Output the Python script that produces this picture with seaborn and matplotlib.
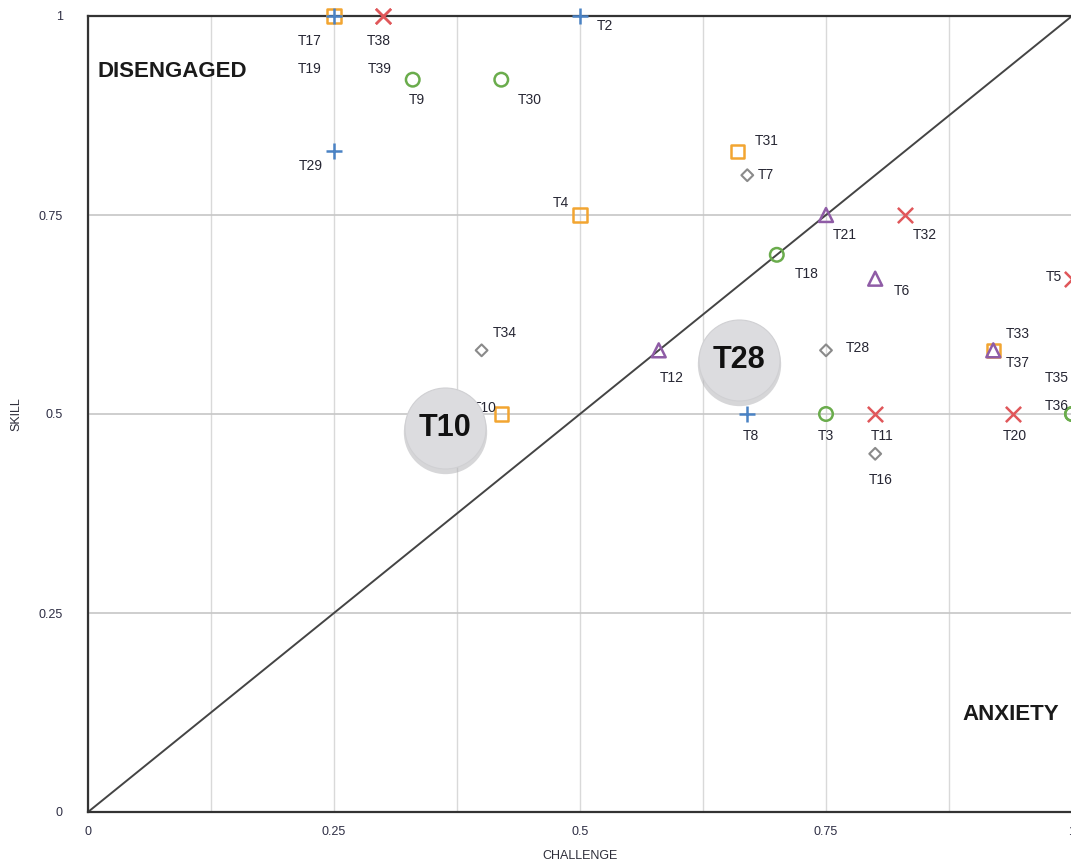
import matplotlib
matplotlib.use("Agg")
import matplotlib.pyplot as plt
import matplotlib.transforms as mtransforms
import seaborn as sns
import pandas as pd

# ---- data ----
task_names = ["T2", "T3", "T4", "T5", "T6", "T7", "T8", "T9", "T10", "T11",
              "T12", "T16", "T17", "T18", "T19", "T20", "T21", "T28", "T29", "T30",
              "T31", "T32", "T33", "T34", "T35", "T36", "T37", "T38", "T39"]
challenge = [0.50, 0.75, 0.50, 1.00, 0.80, 0.67, 0.67, 0.33, 0.42, 0.80,
             0.58, 0.80, 0.25, 0.70, 0.25, 0.94, 0.75, 0.75, 0.25, 0.42,
             0.66, 0.83, 0.92, 0.40, 1.00, 1.00, 0.92, 0.30, 0.30]
skill = [1.00, 0.50, 0.75, 0.67, 0.67, 0.80, 0.50, 0.92, 0.50, 0.50,
         0.58, 0.45, 1.00, 0.70, 1.00, 0.50, 0.75, 0.58, 0.83, 0.92,
         0.83, 0.75, 0.58, 0.58, 0.50, 0.50, 0.58, 1.00, 1.00]
group = ["plus", "circle", "square", "cross", "triangle", "diamond", "plus", "circle", "square", "cross",
         "triangle", "diamond", "square", "circle", "plus", "cross", "triangle", "diamond", "plus", "circle",
         "square", "cross", "square", "diamond", "circle", "circle", "triangle", "cross", "cross"]

callout_names = ["T10", "T28"]
callout_x = [0.363, 0.662]
callout_y = [0.482, 0.568]

x_ticks = [0, 0.25, 0.5, 0.75, 1]
x_tick_labels = ["0", "0.25", "0.5", "0.75", "1"]
y_ticks = [0, 0.25, 0.5, 0.75, 1]
y_tick_labels = ["0", "0.25", "0.5", "0.75", "1"]

# ---- styling ----
group_style = {
    "plus":     dict(marker="+", color="#4a82c4", s=140, lw=1.8, filled=True),
    "square":   dict(marker="s", color="#f2a531", s=90, lw=1.8, filled=False),
    "circle":   dict(marker="o", color="#6aac4c", s=95, lw=1.8, filled=False),
    "triangle": dict(marker="^", color="#8f5ca6", s=100, lw=1.8, filled=False),
    "cross":    dict(marker="x", color="#e0575a", s=120, lw=1.8, filled=True),
    "diamond":  dict(marker="D", color="#8a8a8a", s=36, lw=1.5, filled=False),
}
label_offsets = {
    "T17": (-24, -25), "T19": (-24, -53), "T38": (-4, -25), "T39": (-4, -53),
    "T2": (25, -10), "T9": (4, -20), "T30": (28, -20), "T29": (-23, -15),
    "T31": (29, 10), "T7": (19, 0), "T4": (-19, 12), "T21": (19, -20),
    "T32": (20, -20), "T18": (30, -19), "T6": (27, -12), "T5": (-18, 2),
    "T34": (23, 17), "T12": (13, -28), "T28": (32, 2), "T33": (24, 16),
    "T37": (24, -13), "T35": (-15, 36), "T36": (-15, 8), "T10": (-17, 6),
    "T8": (4, -22), "T3": (0, -22), "T11": (7, -22), "T20": (2, -22),
    "T16": (5, -26),
}

df = pd.DataFrame({"name": task_names, "challenge": challenge,
                   "skill": skill, "group": group})

sns.set_theme(style="white")
plt.rcParams["font.family"] = ["Liberation Sans", "DejaVu Sans"]

fig = plt.figure(figsize=(10.71, 8.64), dpi=100)
ax = fig.add_axes([88 / 1071, 52 / 864, 984 / 1071, 796 / 864])

# grid
ax.set_xticks(x_ticks)
ax.set_xticklabels(x_tick_labels)
ax.set_xticks([0.125, 0.375, 0.625, 0.875], minor=True)
ax.set_yticks(y_ticks)
ax.set_yticklabels(y_tick_labels)
ax.grid(True, which="major", axis="y", color="#c6c6c6", lw=1.2)
ax.grid(True, which="both", axis="x", color="#d9d9d9", lw=1.0)
ax.set_axisbelow(True)

# diagonal
ax.plot([0, 1], [0, 1], color="#444444", lw=1.4, zorder=2)

# markers
order = ["diamond", "square", "circle", "triangle", "cross", "plus"]
for g in order:
    st = group_style[g]
    sub = df[df["group"] == g]
    if st["filled"]:
        sns.scatterplot(data=sub, x="challenge", y="skill", marker=st["marker"],
                        color=st["color"], s=st["s"], linewidth=st["lw"],
                        ax=ax, zorder=4, clip_on=False, legend=False)
    else:
        sns.scatterplot(data=sub, x="challenge", y="skill", marker=st["marker"],
                        facecolor="none", edgecolor=st["color"], s=st["s"],
                        linewidth=st["lw"], ax=ax, zorder=4, clip_on=False,
                        legend=False)

# point labels
for n, xv, yv in zip(task_names, challenge, skill):
    dx, dy = label_offsets.get(n, (0, -20))
    ax.annotate(n, (xv, yv), xytext=(dx, dy), textcoords="offset pixels",
                ha="center", va="center", fontsize=10, color="#262633",
                zorder=5, annotation_clip=False)

# callout bubbles
shadow_tr = ax.transData + mtransforms.ScaledTranslation(0, -4 / 100, fig.dpi_scale_trans)
for n, xv, yv in zip(callout_names, callout_x, callout_y):
    ax.scatter([xv], [yv], s=3600, color="#aeaeb2", alpha=0.5, zorder=6,
               linewidths=0, transform=shadow_tr)
    ax.scatter([xv], [yv], s=3400, color="#dcdcdf", edgecolors="#d0d0d3",
               linewidths=0.8, zorder=7)
    ax.text(xv, yv, n, ha="center", va="center", fontsize=22,
            fontweight="bold", color="#111111", zorder=8)

# region labels
ax.text(0.01, 0.93, "DISENGAGED", fontsize=16, fontweight="bold",
        color="#1a1a1a", ha="left", va="center", zorder=5)
ax.text(0.889, 0.123, "ANXIETY", fontsize=16, fontweight="bold",
        color="#1a1a1a", ha="left", va="center", zorder=5)

ax.set_xlim(0, 1)
ax.set_ylim(0, 1)

for side in ["left", "bottom", "top"]:
    ax.spines[side].set_color("#333333")
    ax.spines[side].set_linewidth(1.6)
ax.spines["right"].set_visible(False)

ax.tick_params(axis="both", which="both", length=0, labelsize=9,
               labelcolor="#2e2e44")
ax.tick_params(axis="x", pad=10)
ax.tick_params(axis="y", pad=18)
ax.set_xlabel("CHALLENGE", fontsize=9, color="#2e2e3a", labelpad=9)
ax.set_ylabel("SKILL", fontsize=9, color="#2e2e3a", labelpad=12)

fig.savefig("out.png", dpi=100)
